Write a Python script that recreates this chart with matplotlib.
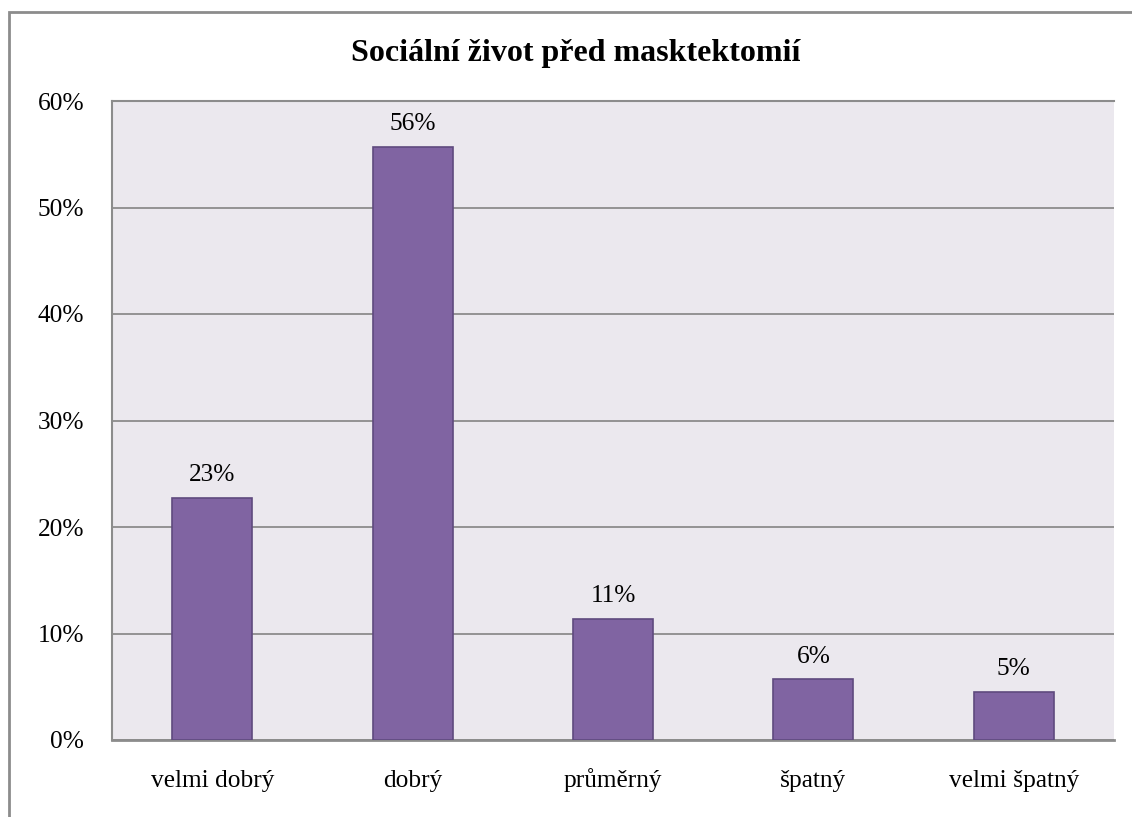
import matplotlib.pyplot as plt
from matplotlib.patches import Rectangle
from matplotlib.ticker import FuncFormatter, MultipleLocator

categories = ["velmi dobrý", "dobrý", "průměrný", "špatný", "velmi špatný"]
counts = [20, 49, 10, 5, 4]
total = sum(counts)
shares = [c / total * 100 for c in counts]
value_labels = ["23%", "56%", "11%", "6%", "5%"]
title = "Sociální život před masktektomií"

plt.rcParams["font.family"] = ["Liberation Serif", "DejaVu Serif"]

W, H = 1132, 817
fig = plt.figure(figsize=(W / 100, H / 100), dpi=100)
fig.patch.set_facecolor("white")

# outer chart frame (runs off the right and bottom edges)
fig.add_artist(Rectangle((9 / W, -0.05), 1.2, 1 - 12 / H + 0.05,
                         transform=fig.transFigure, fill=False,
                         edgecolor="#8c8c8c", linewidth=2.0))

ax = fig.add_axes([112 / W, 1 - 740 / H, (1114 - 112) / W, (740 - 101) / H])
ax.set_facecolor("#ebe8ee")

x = range(len(categories))
ax.bar(x, shares, width=0.4, color="#8064a2", edgecolor="#5f4a7e",
       linewidth=1.2, zorder=3)
for xi, v, lab in zip(x, shares, value_labels):
    ax.text(xi, v + 1.1, lab, ha="center", va="bottom", fontsize=18.3,
            color="black", zorder=4)

ax.set_xlim(-0.5, len(categories) - 0.5)
ax.set_ylim(0, 60)
ax.yaxis.set_major_locator(MultipleLocator(10))
ax.yaxis.set_major_formatter(FuncFormatter(lambda v, p: f"{v:.0f}%"))
ax.set_xticks(list(x))
ax.set_xticklabels(categories)
ax.tick_params(axis="both", length=0, labelsize=18.3, colors="black")
ax.tick_params(axis="y", pad=20)
ax.tick_params(axis="x", pad=34)
# category names share a common baseline
for lab in ax.get_xticklabels():
    lab.set_verticalalignment("baseline")
ax.grid(axis="y", color="#8c8c8c", linewidth=1.3, zorder=1)
ax.set_axisbelow(True)

for side in ("left", "top", "bottom"):
    ax.spines[side].set_color("#8c8c8c")
    ax.spines[side].set_linewidth(1.5)
ax.spines["bottom"].set_linewidth(2.0)
ax.spines["right"].set_visible(False)

fig.text(576 / W, 1 - 53 / H, title, ha="center", va="center",
         fontsize=23, fontweight="bold")

fig.savefig("out.png", dpi=100)
